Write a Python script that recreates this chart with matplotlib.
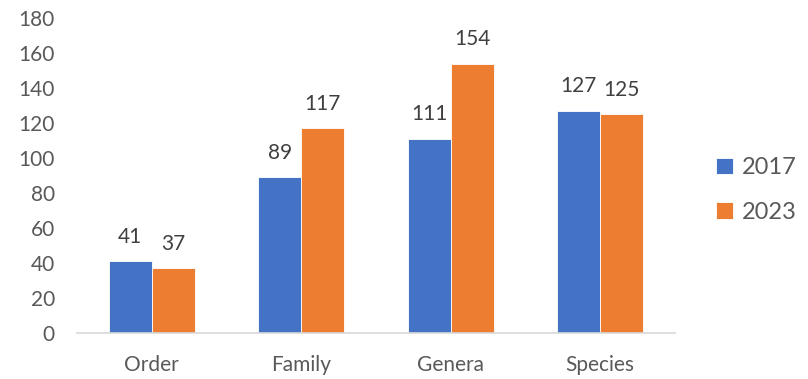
import matplotlib.pyplot as plt
import numpy as np

plt.rcParams['font.family'] = ['Lato', 'DejaVu Sans']

# Taxon counts per rank
categories = ['Order', 'Family', 'Genera', 'Species']
counts_2017 = [41, 89, 111, 127]
counts_2023 = [37, 117, 154, 125]
series_names = ['2017', '2023']

blue = '#4472C4'
orange = '#ED7D31'
label_color = '#404040'
tick_color = '#595959'

fig = plt.figure(figsize=(8.08, 3.79), dpi=100)
ax = fig.add_axes([77 / 808, 1 - 333 / 379, 598 / 808, 315 / 379])

x = np.arange(len(categories))
w = 0.288
b1 = ax.bar(x - w / 2, counts_2017, w, color=blue, edgecolor='white', linewidth=0.6, label=series_names[0])
b2 = ax.bar(x + w / 2, counts_2023, w, color=orange, edgecolor='white', linewidth=0.6, label=series_names[1])

for bars, vals in [(b1, counts_2017), (b2, counts_2023)]:
    for rect, v in zip(bars, vals):
        ax.annotate(str(v), (rect.get_x() + rect.get_width() / 2, v),
                    xytext=(0, 10.5), textcoords='offset points',
                    ha='center', va='bottom', fontsize=15, color=label_color)

ax.set_xlim(-0.5, len(categories) - 0.5)
ax.set_ylim(0, 180)
ax.set_yticks(range(0, 181, 20))
ax.set_xticks(x)
ax.set_xticklabels(categories)

for side in ['top', 'right', 'left']:
    ax.spines[side].set_visible(False)
ax.spines['bottom'].set_color('#D9D9D9')
ax.spines['bottom'].set_linewidth(1.2)
ax.tick_params(axis='both', length=0, labelsize=15, colors=tick_color)
ax.tick_params(axis='y', pad=16)
ax.tick_params(axis='x', pad=16)

fig.legend(handles=[b1, b2], loc='center left', bbox_to_anchor=(695 / 808, 1 - 190 / 379),
           frameon=False, fontsize=17, labelcolor=tick_color,
           handlelength=0.7, handleheight=0.7, handletextpad=0.4, labelspacing=1.0)

fig.savefig('out.png', dpi=100)
